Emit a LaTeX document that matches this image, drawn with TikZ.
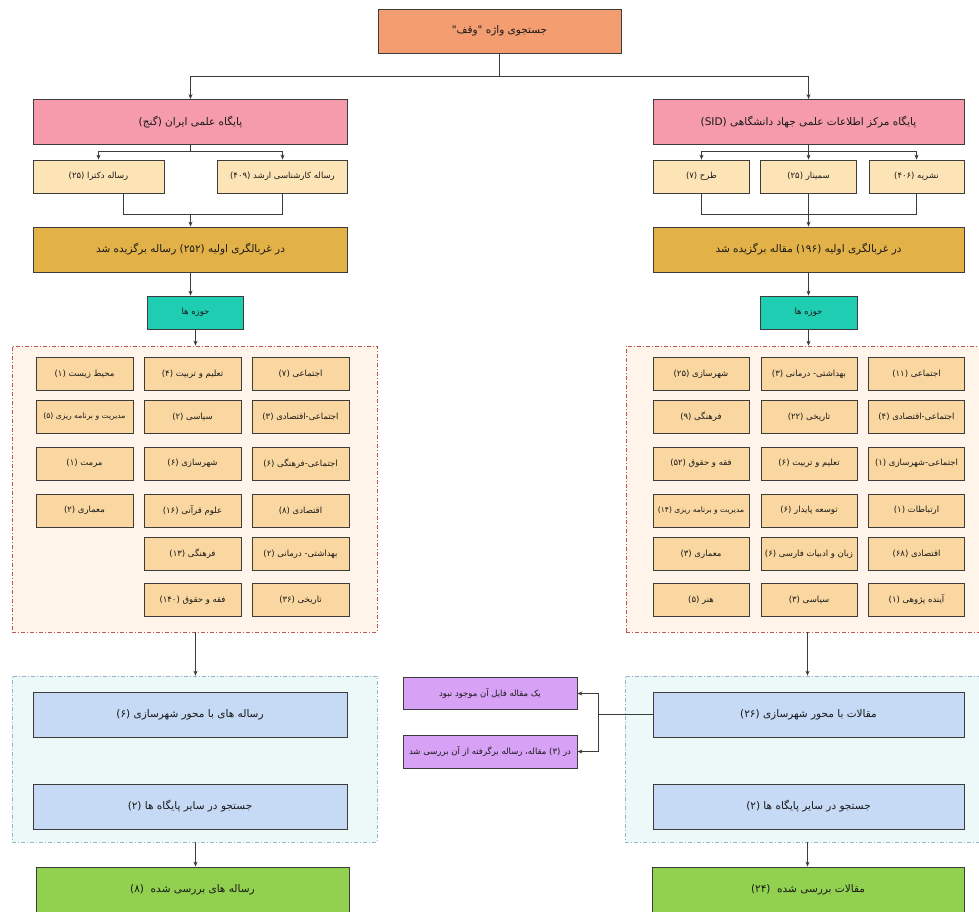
\documentclass[tikz,border=0pt]{standalone}
\usepackage{fontspec}
\usetikzlibrary{arrows.meta}
\TeXXeTstate=1
\newfontfamily\farsi[Script=Arabic]{DejaVu Sans}
\newcommand\fa[1]{\beginR #1\endR}
\newcommand\nm[1]{\beginL(#1)\endL}
\newcommand\qt{\beginL"\endL}
\definecolor{cTop}{RGB}{243,157,112}
\definecolor{cPink}{RGB}{246,155,172}
\definecolor{cTan}{RGB}{253,228,183}
\definecolor{cGold}{RGB}{226,178,72}
\definecolor{cTeal}{RGB}{30,205,178}
\definecolor{cGrid}{RGB}{250,215,160}
\definecolor{cRedB}{RGB}{190,85,85}
\definecolor{cRedF}{RGB}{254,244,233}
\definecolor{cBlueB}{RGB}{150,180,200}
\definecolor{cBlueF}{RGB}{237,248,248}
\definecolor{cBlue}{RGB}{198,218,246}
\definecolor{cGreen}{RGB}{146,208,80}
\definecolor{cPurple}{RGB}{215,162,245}
\definecolor{cLine}{RGB}{60,60,60}
\definecolor{cText}{RGB}{25,25,25}
\begin{document}
\begin{tikzpicture}[x=1pt,y=-1pt,
  box/.style={draw=cLine, line width=0.8pt, inner sep=1pt, align=center, text=cText,
              font=\farsi\fontsize{10.5}{12}\selectfont},
  sbox/.style={box, font=\farsi\fontsize{8.5}{10}\selectfont},
  tinybox/.style={font=\farsi\fontsize{7.6}{9}\selectfont},
  bigbox/.style={box, minimum width=314, minimum height=45},
  topbox/.style={box, fill=cTop, minimum width=243, minimum height=44},
  pinkbox/.style={bigbox, fill=cPink},
  goldbox/.style={bigbox, fill=cGold},
  bluebox/.style={bigbox, fill=cBlue},
  greenbox/.style={bigbox, fill=cGreen, minimum height=46},
  tanbox/.style={sbox, fill=cTan, minimum height=33},
  tealbox/.style={sbox, fill=cTeal, minimum width=96, minimum height=33},
  gridbox/.style={sbox, fill=cGrid, minimum width=97, minimum height=33},
  purplebox/.style={sbox, fill=cPurple, minimum width=174, minimum height=32},
  redcont/.style={draw=cRedB, fill=cRedF, line width=0.7pt, dash pattern=on 4pt off 2pt on 1pt off 2pt},
  bluecont/.style={draw=cBlueB, fill=cBlueF, line width=0.7pt, dash pattern=on 4pt off 2pt on 1pt off 2pt},
  conn/.style={draw=cLine, line width=0.9pt},
  arr/.style={conn, -{Stealth[length=5pt,width=4pt]}}
]
\clip (0,0) rectangle (979,911);
\fill[white] (0,0) rectangle (979,911);

% containers
\node[redcont, minimum width=365, minimum height=286, inner sep=0] (contL) at (194.5,489) {};
\node[redcont, minimum width=364, minimum height=286, inner sep=0] (contR) at (808,489) {};
\node[bluecont, minimum width=365, minimum height=166, inner sep=0] (bcontL) at (194.5,759) {};
\node[bluecont, minimum width=365, minimum height=166, inner sep=0] (bcontR) at (807.5,759) {};

% top
\node[topbox] (top) at (499.5,31) {\fa{جستجوی واژه \qt{}وقف\qt}};
\node[pinkbox] (pinkL) at (190.5,122) {\fa{پایگاه علمی ایران \nm{گنج}}};
\node[pinkbox, minimum width=311] (pinkR) at (808.5,122) {\fa{پایگاه مرکز اطلاعات علمی جهاد دانشگاهی \nm{SID}}};

% sources
\node[tanbox, minimum width=131] (sL1) at (98.5,176.5) {\fa{رساله دکترا \nm{۲۵}}};
\node[tanbox, minimum width=130] (sL2) at (282.5,176.5) {\fa{رساله کارشناسی ارشد \nm{۴۰۹}}};
\node[tanbox, minimum width=96] (sR1) at (701.5,176.5) {\fa{طرح \nm{۷}}};
\node[tanbox, minimum width=96] (sR2) at (808.5,176.5) {\fa{سمینار \nm{۲۵}}};
\node[tanbox, minimum width=95] (sR3) at (916.5,176.5) {\fa{نشریه \nm{۴۰۶}}};

% screening
\node[goldbox] (gL) at (190.5,249.5) {\fa{در غربالگری اولیه \nm{۲۵۲} رساله برگزیده شد}};
\node[goldbox, minimum width=311] (gR) at (808.5,249.5) {\fa{در غربالگری اولیه \nm{۱۹۶} مقاله برگزیده شد}};

% fields
\node[tealbox] (tL) at (195.5,312.5) {\fa{حوزه ها}};
\node[tealbox, minimum width=97] (tR) at (808.5,312.5) {\fa{حوزه ها}};

% left grid
\node[gridbox] (l11) at (84.5,374) {\fa{محیط زیست \nm{۱}}};
\node[gridbox] (l12) at (192.5,374) {\fa{تعلیم و تربیت \nm{۴}}};
\node[gridbox] (l13) at (300.5,374) {\fa{اجتماعی \nm{۷}}};
\node[gridbox, tinybox] (l21) at (84.5,417) {\fa{مدیریت و برنامه ریزی \nm{۵}}};
\node[gridbox] (l22) at (192.5,417) {\fa{سیاسی \nm{۲}}};
\node[gridbox] (l23) at (300.5,417) {\fa{اجتماعی-اقتصادی \nm{۳}}};
\node[gridbox] (l31) at (84.5,463.5) {\fa{مرمت \nm{۱}}};
\node[gridbox] (l32) at (192.5,463.5) {\fa{شهرسازی \nm{۶}}};
\node[gridbox] (l33) at (300.5,463.5) {\fa{اجتماعی-فرهنگی \nm{۶}}};
\node[gridbox] (l41) at (84.5,510.5) {\fa{معماری \nm{۲}}};
\node[gridbox] (l42) at (192.5,510.5) {\fa{علوم قرآنی \nm{۱۶}}};
\node[gridbox] (l43) at (300.5,510.5) {\fa{اقتصادی \nm{۸}}};
\node[gridbox] (l52) at (192.5,554) {\fa{فرهنگی \nm{۱۳}}};
\node[gridbox] (l53) at (300.5,554) {\fa{بهداشتی- درمانی \nm{۲}}};
\node[gridbox] (l62) at (192.5,600) {\fa{فقه و حقوق \nm{۱۴۰}}};
\node[gridbox] (l63) at (300.5,600) {\fa{تاریخی \nm{۳۶}}};

% right grid
\node[gridbox, minimum width=96] (r11) at (701,374) {\fa{شهرسازی \nm{۲۵}}};
\node[gridbox, minimum width=96] (r12) at (809,374) {\fa{بهداشتی- درمانی \nm{۳}}};
\node[gridbox, minimum width=96] (r13) at (916.5,374) {\fa{اجتماعی \nm{۱۱}}};
\node[gridbox, minimum width=96] (r21) at (701,417) {\fa{فرهنگی \nm{۹}}};
\node[gridbox, minimum width=96] (r22) at (809,417) {\fa{تاریخی \nm{۲۲}}};
\node[gridbox, minimum width=96] (r23) at (916.5,417) {\fa{اجتماعی-اقتصادی \nm{۴}}};
\node[gridbox, minimum width=96] (r31) at (701,463.5) {\fa{فقه و حقوق \nm{۵۲}}};
\node[gridbox, minimum width=96] (r32) at (809,463.5) {\fa{تعلیم و تربیت \nm{۶}}};
\node[gridbox, minimum width=96] (r33) at (916.5,463.5) {\fa{اجتماعی-شهرسازی \nm{۱}}};
\node[gridbox, minimum width=96, tinybox] (r41) at (701,510.5) {\fa{مدیریت و برنامه ریزی \nm{۱۴}}};
\node[gridbox, minimum width=96] (r42) at (809,510.5) {\fa{توسعه پایدار \nm{۶}}};
\node[gridbox, minimum width=96] (r43) at (916.5,510.5) {\fa{ارتباطات \nm{۱}}};
\node[gridbox, minimum width=96] (r51) at (701,554) {\fa{معماری \nm{۳}}};
\node[gridbox, minimum width=96] (r52) at (809,554) {\fa{زبان و ادبیات فارسی \nm{۶}}};
\node[gridbox, minimum width=96] (r53) at (916.5,554) {\fa{اقتصادی \nm{۶۸}}};
\node[gridbox, minimum width=96] (r61) at (701,600) {\fa{هنر \nm{۵}}};
\node[gridbox, minimum width=96] (r62) at (809,600) {\fa{سیاسی \nm{۳}}};
\node[gridbox, minimum width=96] (r63) at (916.5,600) {\fa{آینده پژوهی \nm{۱}}};

% bottom
\node[bluebox] (bL1) at (190,714.5) {\fa{رساله های با محور شهرسازی \nm{۶}}};
\node[bluebox] (bL2) at (190,806.5) {\fa{جستجو در سایر پایگاه ها \nm{۲}}};
\node[bluebox, minimum width=311] (bR1) at (808.5,714.5) {\fa{مقالات با محور شهرسازی \nm{۲۶}}};
\node[bluebox, minimum width=311] (bR2) at (808.5,806.5) {\fa{جستجو در سایر پایگاه ها \nm{۲}}};
\node[greenbox, minimum width=313] (grL) at (192.5,890) {\fa{رساله های بررسی شده\ \ \nm{۸}}};
\node[greenbox, minimum width=312] (grR) at (808,890) {\fa{مقالات بررسی شده\ \ \nm{۲۴}}};
\node[purplebox] (p1) at (490,693.5) {\fa{یک مقاله فایل آن موجود نبود}};
\node[purplebox, minimum height=33] (p2) at (490,751.5) {\fa{در \nm{۳} مقاله، رساله برگرفته از آن بررسی شد}};

% connectors
\coordinate (tj) at (499.5,76.5);
\draw[conn] (top.south) -- (tj);
\draw[arr] (tj) -| (pinkL.north);
\draw[arr] (tj) -| (pinkR.north);

\coordinate (pjL) at (190.5,151.5);
\draw[conn] (pinkL.south) -- (pjL);
\draw[arr] (pjL) -| (sL1.north);
\draw[arr] (pjL) -| (sL2.north);
\coordinate (pjR) at (808.5,151.5);
\draw[conn] (pinkR.south) -- (pjR);
\draw[arr] (pjR) -| (sR1.north);
\draw[arr] (pjR) -- (sR2.north);
\draw[arr] (pjR) -| (sR3.north);

\coordinate (mL1) at (123.5,214.5);
\coordinate (mL) at (190.5,214.5);
\draw[conn] (sL1.south -| mL1) -- (mL1) -| (sL2.south);
\draw[arr] (mL) -- (gL.north);
\coordinate (mR) at (808.5,214.5);
\draw[conn] (sR1.south) |- (mR) -| (sR3.south);
\draw[conn] (sR2.south) -- (mR);
\draw[arr] (mR) -- (gR.north);

\draw[arr] (gL.south) -- (gL.south |- tL.north);
\draw[arr] (gR.south) -- (gR.south |- tR.north);
\draw[arr] (tL.south) -- (tL.south |- contL.north);
\draw[arr] (tR.south) -- (tR.south |- contR.north);
\draw[arr] (tL.south |- contL.south) -- (tL.south |- bcontL.north);
\coordinate (cRb) at (807.5,632);
\draw[arr] (cRb) -- (cRb |- bcontR.north);
\draw[arr] (tL.south |- bcontL.south) -- (tL.south |- grL.north);
\coordinate (bRb) at (807.5,842);
\draw[arr] (bRb) -- (bRb |- grR.north);

\coordinate (jn) at (598.5,714.5);
\draw[conn] (bR1.west) -- (jn);
\draw[arr] (jn) |- (p1.east);
\draw[arr] (jn) |- (p2.east);
\end{tikzpicture}
\end{document}
